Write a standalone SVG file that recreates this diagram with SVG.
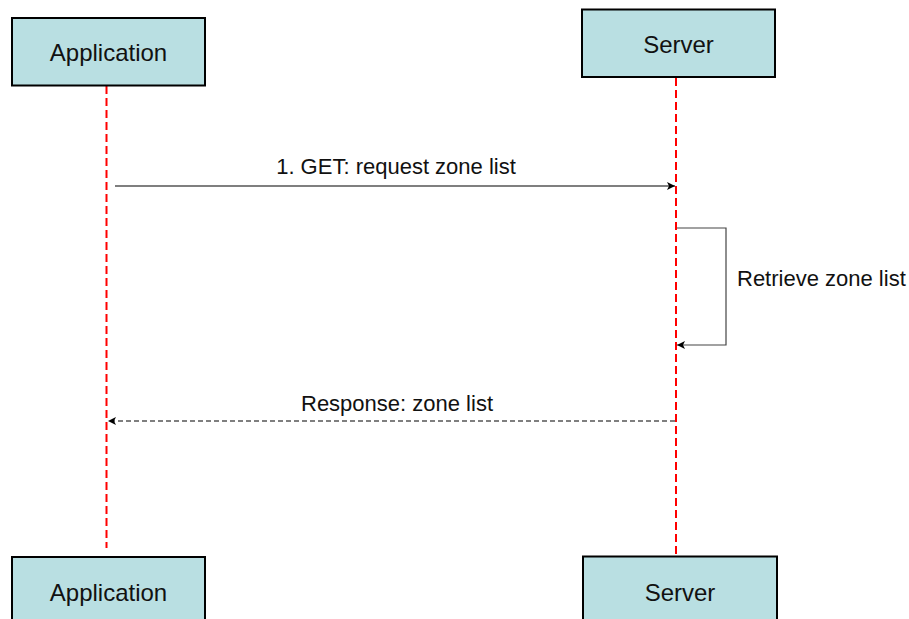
<svg xmlns="http://www.w3.org/2000/svg" width="909" height="619" viewBox="0 0 909 619">
<style>
.box{fill:#b9dfe2;stroke:#000;stroke-width:2}
.lbl{font-family:"Liberation Sans",Arial,sans-serif;font-size:24px;fill:#111;text-anchor:middle}
.msg{font-family:"Liberation Sans",Arial,sans-serif;font-size:22px;fill:#111}
.life{stroke:#ff0000;stroke-width:2;stroke-dasharray:8 4;fill:none}
</style>
<defs>
<marker id="ah" markerWidth="10" markerHeight="10" refX="8" refY="4" orient="auto" markerUnits="userSpaceOnUse">
<path d="M0,0 L8,4 L0,8 L2,4 z" fill="#000"/>
</marker>
</defs>
<g id="lifelines">
<line class="life" x1="106.5" y1="86" x2="106.5" y2="548"/>
<line class="life" x1="676" y1="78" x2="676" y2="556"/>
</g>
<g id="app-top"><rect class="box" x="12" y="18" width="193" height="67.5"/><text class="lbl" x="108.5" y="61">Application</text></g>
<g id="server-top"><rect class="box" x="582" y="9.5" width="193" height="67.5"/><text class="lbl" x="678.5" y="53">Server</text></g>
<g id="app-bottom"><rect class="box" x="12" y="557" width="193" height="70"/><text class="lbl" x="108.5" y="601">Application</text></g>
<g id="server-bottom"><rect class="box" x="583" y="556.5" width="194" height="70"/><text class="lbl" x="680" y="601">Server</text></g>
<g id="connectors">
<line x1="115" y1="186" x2="675" y2="186" stroke="#000" stroke-width="1.2" marker-end="url(#ah)"/>
<text class="msg" x="396" y="174" text-anchor="middle">1. GET: request zone list</text>
<polyline points="677,228 726,228 726,345 677,345" fill="none" stroke="#444" stroke-width="1.2" marker-end="url(#ah)"/>
<text class="msg" x="737" y="286">Retrieve zone list</text>
<line x1="675" y1="421" x2="108" y2="421" stroke="#000" stroke-width="1.2" stroke-dasharray="5 3" marker-end="url(#ah)"/>
<text class="msg" x="397" y="411" text-anchor="middle">Response: zone list</text>
</g>
</svg>
